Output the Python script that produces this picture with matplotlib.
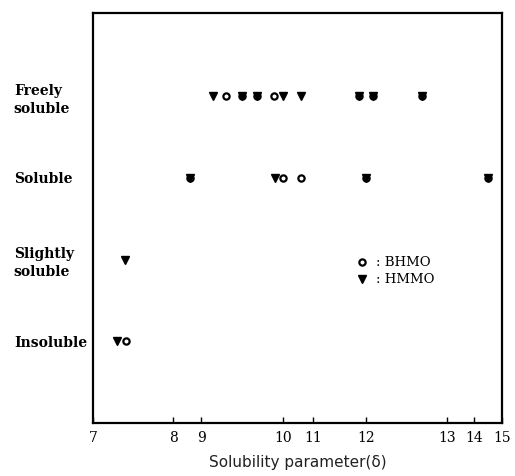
import matplotlib
matplotlib.use("Agg")
import matplotlib.pyplot as plt
import numpy as np

# solubility levels (bottom to top)
levels = ["Insoluble", "Slightly\nsoluble", "Soluble", "Freely\nsoluble"]

# x axis ticks of the solubility parameter
delta_ticks = [7, 8, 9, 10, 11, 12, 13, 14, 15]

# BHMO observations: solubility parameter and level index
bhmo_delta = [7.41, 8.6, 10.0, 10.6, 12.0, 14.5,
              9.3, 9.5, 9.68, 9.89, 11.87, 12.09, 12.69]
bhmo_level = [0, 2, 2, 2, 2, 2,
              3, 3, 3, 3, 3, 3, 3]

# HMMO observations
hmmo_delta = [7.3, 7.4, 8.6, 9.9, 12.0, 14.5,
              9.15, 9.5, 9.68, 10.0, 10.6, 11.87, 12.09, 12.69]
hmmo_level = [0, 1, 2, 2, 2, 2,
              3, 3, 3, 3, 3, 3, 3, 3]

# the axis is not linear in delta: piecewise mapping of tick values to position
tick_pos = [0, 80, 108, 190, 220, 273, 354, 381, 409]


def fwd(x):
    return np.interp(x, delta_ticks, tick_pos)


def inv(x):
    return np.interp(x, tick_pos, delta_ticks)


fig = plt.figure(figsize=(5.15, 4.76), dpi=100)
ax = fig.add_axes([0.1806, 0.1113, 0.7942, 0.8614])
ax.set_xscale("function", functions=(fwd, inv))

ax.plot(bhmo_delta, bhmo_level, linestyle="none", marker="o", ms=4.5,
        mfc="white", mec="black", mew=1.6, label=": BHMO", zorder=3)
ax.plot(hmmo_delta, hmmo_level, linestyle="none", marker="v", ms=5.5,
        color="black", label=": HMMO", zorder=4)

ax.set_xlim(7, 15)
ax.set_ylim(-1.0, 4.02)
ax.set_xticks(delta_ticks)
ax.set_xticklabels([str(t) for t in delta_ticks],
                   fontfamily="DejaVu Serif", fontsize=10)
ax.xaxis.set_minor_locator(matplotlib.ticker.NullLocator())
ax.tick_params(axis="x", direction="in", length=4, width=1, pad=6)

ax.set_yticks(range(len(levels)))
ax.set_yticklabels(levels, fontfamily="DejaVu Serif", fontweight="bold",
                   fontsize=10, ha="left", linespacing=1.35)
ax.tick_params(axis="y", length=0, pad=57)

for s in ax.spines.values():
    s.set_linewidth(1.6)

ax.set_xlabel("Solubility parameter(δ)", fontsize=11, color="#222222",
              labelpad=7)

ax.legend(loc="center left", bbox_to_anchor=(0.615, 0.37), frameon=False,
          handlelength=0.8, handletextpad=0.7, labelspacing=0.3,
          prop={"family": "DejaVu Serif", "size": 9.5})

fig.savefig("out.png", dpi=100)
